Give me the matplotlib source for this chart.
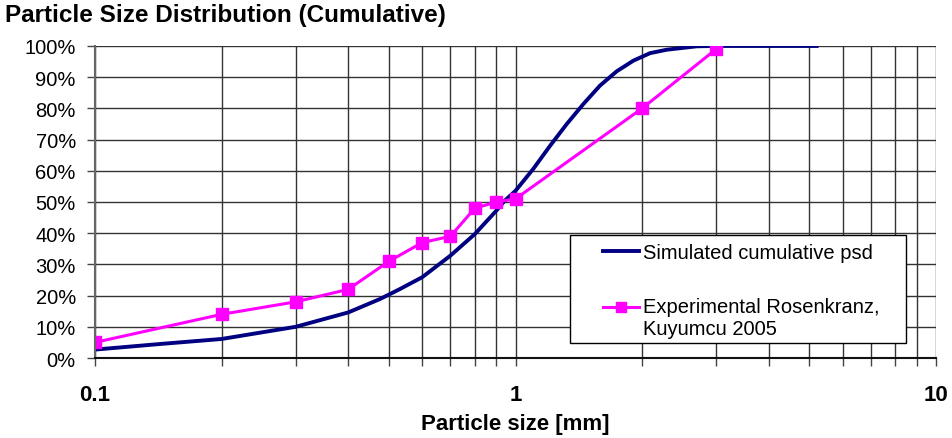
import numpy as np
import matplotlib.pyplot as plt
from matplotlib.patches import Rectangle
from matplotlib.legend_handler import HandlerLine2D
from matplotlib.ticker import FixedLocator, NullFormatter, FuncFormatter

plt.rcParams['font.family'] = ['Liberation Sans', 'DejaVu Sans']

# simulated cumulative psd (mm, %)
sim_size = [0.1, 0.143, 0.2, 0.3, 0.4, 0.476, 0.531, 0.6, 0.7, 0.8, 0.9, 0.944,
            1.0, 1.102, 1.208, 1.324, 1.45, 1.588, 1.741, 1.907, 2.089, 2.289,
            2.7, 3.0, 4.0, 5.2]
sim_cum = [2.7, 4.5, 6.1, 10.0, 14.6, 18.9, 22.1, 25.9, 32.8, 39.7, 47.2, 50.5,
           53.6, 60.6, 68.0, 75.0, 81.4, 87.3, 91.9, 95.3, 97.7, 98.8,
           99.9, 100.0, 100.0, 100.0]

# experimental data, Rosenkranz & Kuyumcu 2005
exp_size = [0.1, 0.2, 0.3, 0.4, 0.5, 0.6, 0.7, 0.8, 0.9, 1.0, 2.0, 3.0]
exp_cum = [5, 14, 18, 22, 31, 37, 39, 48, 50, 51, 80, 99]

y_ticks = list(range(0, 101, 10))
x_major = [0.1, 1, 10]
x_minor = [m * d for d in (0.1, 1) for m in range(2, 10)]


class ShiftedHandler(HandlerLine2D):
    """legend handle moved up so it sits on the first line of a 2-line label"""
    def __init__(self, dy=0, **kw):
        super().__init__(**kw)
        self.dy = dy

    def create_artists(self, legend, orig_handle, xdescent, ydescent, width,
                       height, fontsize, trans):
        arts = super().create_artists(legend, orig_handle, xdescent, ydescent,
                                      width, height, fontsize, trans)
        for a in arts:
            a.set_ydata(np.asarray(a.get_ydata()) + self.dy)
        return arts


fig = plt.figure(figsize=(9.53, 4.39), dpi=100)
ax = fig.add_axes([0.0997, 0.1822, 0.8825, 0.7108])

sim_line, = ax.plot(sim_size, sim_cum, color='#000080', lw=2.8,
                    label='Simulated cumulative psd')
exp_line, = ax.plot(exp_size, exp_cum, color='#ff00ff', lw=2.2, marker='s', ms=8.5,
                    label='Experimental Rosenkranz,\nKuyumcu 2005')

ax.set_xscale('log')
ax.set_xlim(0.1, 10)
ax.set_ylim(0, 100)

ax.xaxis.set_major_locator(FixedLocator(x_major))
ax.xaxis.set_minor_locator(FixedLocator(x_minor))
ax.xaxis.set_major_formatter(FuncFormatter(lambda v, p: '%g' % v))
ax.xaxis.set_minor_formatter(NullFormatter())
ax.set_yticks(y_ticks)
ax.yaxis.set_major_formatter(FuncFormatter(lambda v, p: '%d%%' % v))

ax.grid(True, which='both', axis='x', color='#333333', lw=1)
ax.grid(True, which='major', axis='y', color='#333333', lw=1)
ax.set_axisbelow(True)

for s in ('top', 'right'):
    ax.spines[s].set_visible(False)
ax.spines['left'].set_color('#666666')
ax.spines['bottom'].set_color('#111111')
for s in ('left', 'bottom'):
    ax.spines[s].set_linewidth(1.5)

ax.tick_params(axis='y', which='major', length=5.8, width=1, color='#444444',
               labelsize=14.5, pad=8)
ax.tick_params(axis='x', which='both', length=5.8, width=1, color='#444444',
               labelsize=16, pad=13)
for t in ax.get_xticklabels():
    t.set_fontweight('bold')

ax.set_xlabel('Particle size [mm]', fontsize=16, fontweight='bold', labelpad=6)
fig.text(0.005, 0.9499, 'Particle Size Distribution (Cumulative)', fontsize=17.5,
         fontweight='bold', va='baseline', ha='left')

# legend box drawn separately so the padding can be wider left/right
frame = Rectangle((0.598, 0.2164), 0.3526, 0.246, transform=fig.transFigure,
                  facecolor='white', edgecolor='black', lw=1, zorder=4.5,
                  clip_on=False)
ax.add_patch(frame)
leg = ax.legend(loc='upper left', bbox_to_anchor=(603 / 953, 1 - 244 / 439),
                bbox_transform=fig.transFigure, fontsize=14.5, frameon=False,
                labelspacing=1.75, handlelength=1.79, handletextpad=0.2,
                borderpad=0, borderaxespad=0, markerscale=0.85,
                handler_map={exp_line: ShiftedHandler(dy=8)})
leg.set_zorder(5)

fig.savefig('out.png', dpi=100)
